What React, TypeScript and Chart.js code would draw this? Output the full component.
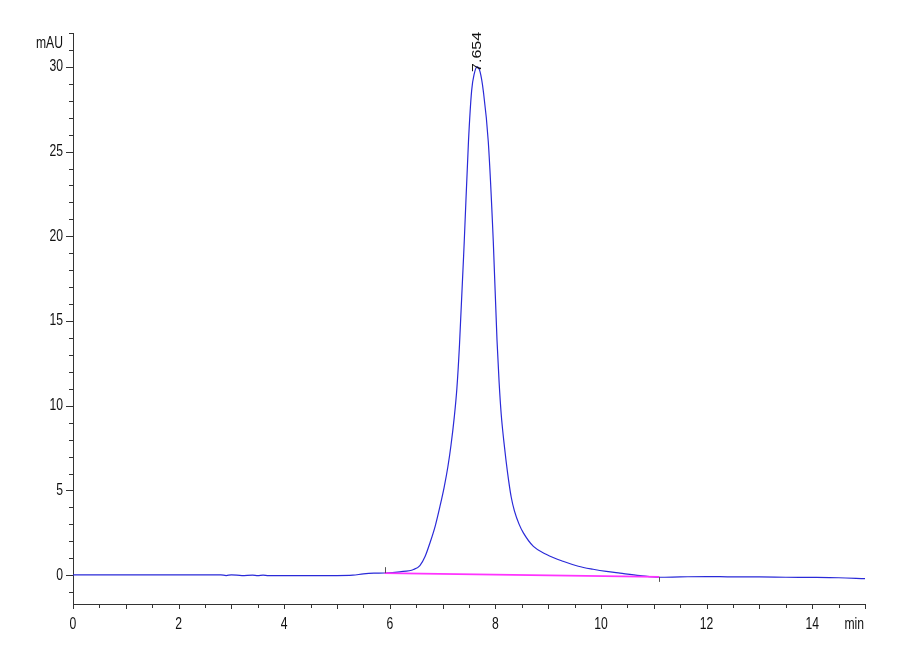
import { useEffect, useRef } from "react";
import { Chart, registerables } from "chart.js";

Chart.register(...registerables);

// Chromatogram signal (time in min, absorbance in mAU)
const times = [
  0, 0.5, 1, 1.5, 2, 2.5, 2.8, 2.9, 3.0, 3.2, 3.4, 3.5, 3.6, 3.7, 4, 4.5, 5, 5.3,
  5.5, 5.7, 5.9, 6.19, 6.45, 6.57, 6.67, 6.76, 6.86, 6.95, 7.03, 7.1, 7.16, 7.22,
  7.27, 7.32, 7.41, 7.49, 7.55, 7.6, 7.654, 7.71, 7.77, 7.865, 7.96, 8.03, 8.07,
  8.11, 8.16, 8.2, 8.25, 8.3, 8.36, 8.45, 8.53, 8.72, 8.97, 9.28, 9.57, 9.85, 10.1,
  10.36, 10.74, 11.1, 11.5, 12, 12.5, 13, 13.5, 14, 14.5, 15,
];
const signal = [
  0.02, 0.02, 0.02, 0.02, 0.02, 0.02, 0.02, -0.02, 0.02, -0.02, 0.01, -0.03, 0.01,
  -0.03, -0.02, -0.02, -0.02, 0.0, 0.08, 0.12, 0.13, 0.2, 0.34, 0.57, 1.12, 1.9,
  2.9, 4.06, 5.2, 6.4, 7.7, 9.3, 11.0, 13.6, 19.7, 25.6, 28.6, 29.6, 30.0, 29.7,
  28.6, 25.6, 19.7, 13.9, 11.4, 9.5, 7.9, 6.8, 5.6, 4.6, 3.8, 3.0, 2.5, 1.7, 1.22,
  0.82, 0.53, 0.35, 0.22, 0.12, -0.02, -0.12, -0.1, -0.08, -0.1, -0.1, -0.12,
  -0.13, -0.15, -0.2,
];

// Integration baseline
const baselineTimes = [5.9, 11.1];
const baselineValues = [0.12, -0.1];

// Peak annotation
const peakTime = 7.654;
const peakValue = 30.0;
const peakLabel = "7.654";

// Axis labels
const xTickLabels = [0, 2, 4, 6, 8, 10, 12, 14];
const yTickLabels = [0, 5, 10, 15, 20, 25, 30];
const xUnit = "min";
const yUnit = "mAU";

const FONT = '"Liberation Sans", Arial, sans-serif';
const TEXT = "#111111";
const AXIS = "#333333";
const SQUEEZE = 0.76;

function squeezedText(
  ctx: CanvasRenderingContext2D,
  text: string,
  x: number,
  y: number,
  align: CanvasTextAlign
) {
  ctx.save();
  ctx.translate(x, y);
  ctx.scale(SQUEEZE, 1);
  ctx.textAlign = align;
  ctx.textBaseline = "middle";
  ctx.fillText(text, 0, 0);
  ctx.restore();
}

const decorPlugin = {
  id: "decor",
  afterDraw(chart: any) {
    const { ctx, scales } = chart;
    const x = scales.x;
    const y = scales.y;
    ctx.save();
    ctx.strokeStyle = AXIS;
    ctx.lineWidth = 1;
    // y ticks
    for (let v = Math.ceil(y.min); v <= Math.floor(y.max); v++) {
      const py = Math.round(y.getPixelForValue(v)) + 0.5;
      const len = v % 5 === 0 ? 7 : 4;
      ctx.beginPath();
      ctx.moveTo(x.left - len, py);
      ctx.lineTo(x.left, py);
      ctx.stroke();
    }
    // x ticks
    for (let k = 0; k <= 30; k++) {
      const v = k * 0.5;
      if (v > x.max) break;
      const px = Math.round(x.getPixelForValue(v)) + 0.5;
      const len = k % 2 === 0 ? 5 : 4;
      ctx.beginPath();
      ctx.moveTo(px, y.bottom);
      ctx.lineTo(px, y.bottom + len);
      ctx.stroke();
    }
    // tick labels
    ctx.fillStyle = TEXT;
    ctx.font = `16px ${FONT}`;
    yTickLabels.forEach((v) => {
      squeezedText(ctx, String(v), x.left - 10, y.getPixelForValue(v), "right");
    });
    xTickLabels.forEach((v) => {
      squeezedText(ctx, String(v), x.getPixelForValue(v), y.bottom + 21, "center");
    });
    // unit labels
    squeezedText(ctx, yUnit, x.left - 10, 44, "right");
    squeezedText(ctx, xUnit, x.right - 1, 625, "right");

    // baseline markers
    ctx.strokeStyle = "#555";
    const b0x = Math.round(x.getPixelForValue(baselineTimes[0])) + 0.5;
    const b0y = y.getPixelForValue(baselineValues[0]);
    ctx.beginPath();
    ctx.moveTo(b0x, b0y);
    ctx.lineTo(b0x, b0y - 6);
    ctx.stroke();
    const b1x = Math.round(x.getPixelForValue(baselineTimes[1])) + 0.5;
    const b1y = y.getPixelForValue(baselineValues[1]);
    ctx.beginPath();
    ctx.moveTo(b1x, b1y);
    ctx.lineTo(b1x, b1y + 5);
    ctx.stroke();

    // peak label (rotated)
    const px = x.getPixelForValue(peakTime);
    const py = y.getPixelForValue(peakValue);
    ctx.translate(px + 1, py + 5);
    ctx.scale(SQUEEZE, 1);
    ctx.rotate(-Math.PI / 2);
    ctx.fillStyle = TEXT;
    ctx.font = `16px ${FONT}`;
    ctx.textAlign = "left";
    ctx.textBaseline = "middle";
    ctx.fillText(peakLabel, 0, 0);
    ctx.restore();
  },
};

export default function App() {
  const ref = useRef<HTMLCanvasElement | null>(null);

  useEffect(() => {
    if (!ref.current) return;
    const chart = new Chart(ref.current, {
      type: "line",
      data: {
        datasets: [
          {
            label: "baseline",
            data: baselineTimes.map((t, i) => ({ x: t, y: baselineValues[i] })),
            borderColor: "#ff33ff",
            borderWidth: 1.6,
            pointRadius: 0,
            fill: false,
          },
          {
            label: "signal",
            data: times.map((t, i) => ({ x: t, y: signal[i] })),
            borderColor: "#2a2ad8",
            borderWidth: 1.2,
            pointRadius: 0,
            fill: false,
            cubicInterpolationMode: "monotone",
          },
        ],
      },
      options: {
        animation: false,
        responsive: true,
        maintainAspectRatio: false,
        layout: { padding: { left: 0, top: 33, right: 35, bottom: 0 } },
        plugins: {
          legend: { display: false },
          tooltip: { enabled: false },
        },
        scales: {
          x: {
            type: "linear",
            min: 0,
            max: 15,
            grid: { display: false, drawTicks: false },
            border: { display: true, color: AXIS, width: 1 },
            ticks: { display: false, stepSize: 0.5 },
            afterFit: (s: any) => {
              s.height = 56;
            },
          },
          y: {
            type: "linear",
            min: -1.7,
            max: 32,
            grid: { display: false, drawTicks: false },
            border: { display: true, color: AXIS, width: 1 },
            ticks: { display: false, stepSize: 1 },
            afterFit: (s: any) => {
              s.width = 73;
            },
          },
        },
      },
      plugins: [decorPlugin],
    });
    return () => chart.destroy();
  }, []);

  return (
    <div
      style={{
        position: "fixed",
        left: 0,
        top: 0,
        width: 900,
        height: 660,
        background: "#fff",
      }}
    >
      <canvas ref={ref} />
    </div>
  );
}
